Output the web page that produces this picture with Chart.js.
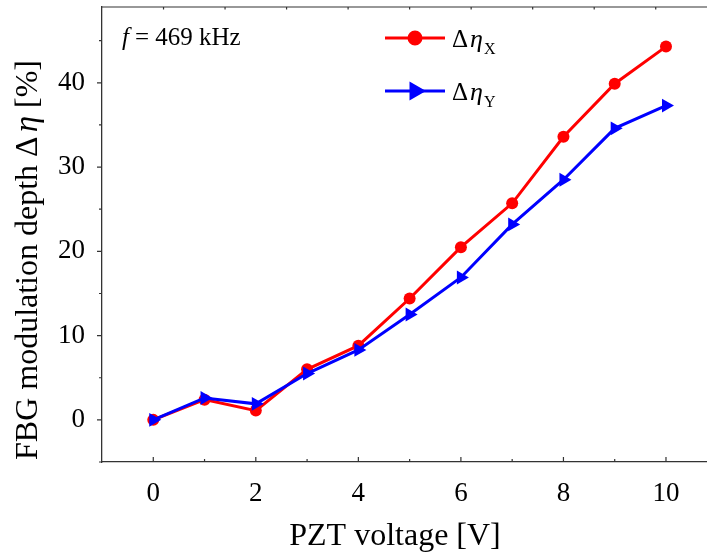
<!DOCTYPE html>
<html>
<head>
<meta charset="utf-8">
<script src="https://cdn.jsdelivr.net/npm/chart.js@4.4.1/dist/chart.umd.min.js"></script>
<style>
  html, body { margin: 0; padding: 0; background: #fff; }
  #wrap { width: 707px; height: 555px; }
</style>
</head>
<body>
<div id="wrap"><canvas id="c" width="707" height="555"></canvas></div>
<script>
// ── FBG modulation depth vs PZT voltage ───────────────────────────────────────
const voltage = [0, 1, 2, 3, 4, 5, 6, 7, 8, 9, 10];
const etaX    = [0, 2.4, 1.1, 6.0, 8.8, 14.4, 20.5, 25.7, 33.6, 39.9, 44.3];
const etaY    = [0, 2.6, 1.9, 5.5, 8.3, 12.5, 16.9, 23.2, 28.5, 34.6, 37.3];

const xTicks      = [0, 2, 4, 6, 8, 10];
const xMinorTicks = [1, 3, 5, 7, 9];
const yTicks      = [0, 10, 20, 30, 40];
const yMinorTicks = [-5, 5, 15, 25, 35, 45];
const topTicks    = [0.2, 1.4, 2.6, 3.8, 5.0, 6.2, 7.4, 8.6, 9.8];

const SERIF = '"Liberation Serif", "DejaVu Serif", serif';
const RED  = '#ff0000';
const BLUE = '#0000ff';

// draw a row of text runs with their own fonts, starting at x
function drawRuns(ctx, runs, x, y) {
  for (const r of runs) {
    ctx.font = r.font;
    ctx.fillText(r.text, x, y + (r.dy || 0));
    x += ctx.measureText(r.text).width + (r.gap || 0);
  }
  return x;
}
function runsWidth(ctx, runs) {
  let w = 0;
  for (const r of runs) { ctx.font = r.font; w += ctx.measureText(r.text).width + (r.gap || 0); }
  return w;
}

// ticks, frame top, annotation, legend and axis titles
const decorPlugin = {
  id: 'decor',
  afterDraw(chart) {
    const { ctx, chartArea: a, scales: { x, y } } = chart;
    ctx.save();
    ctx.strokeStyle = '#333';
    ctx.lineWidth = 1.2;

    // top frame line
    ctx.beginPath();
    ctx.moveTo(a.left, a.top);
    ctx.lineTo(a.right, a.top);
    ctx.stroke();

    ctx.beginPath();
    // bottom ticks point inward
    xTicks.forEach(v => { const px = x.getPixelForValue(v); ctx.moveTo(px, a.bottom); ctx.lineTo(px, a.bottom - 5); });
    xMinorTicks.forEach(v => { const px = x.getPixelForValue(v); ctx.moveTo(px, a.bottom); ctx.lineTo(px, a.bottom - 3); });
    // left ticks point outward
    yTicks.forEach(v => { const py = y.getPixelForValue(v); ctx.moveTo(a.left, py); ctx.lineTo(a.left - 5, py); });
    yMinorTicks.forEach(v => { const py = y.getPixelForValue(v); ctx.moveTo(a.left, py); ctx.lineTo(a.left - 3, py); });
    // small ticks on top frame
    topTicks.forEach(v => { const px = x.getPixelForValue(v); ctx.moveTo(px, a.top); ctx.lineTo(px, a.top + 2.5); });
    ctx.stroke();

    ctx.fillStyle = '#000';
    ctx.textBaseline = 'alphabetic';
    ctx.textAlign = 'left';

    // f = 469 kHz
    drawRuns(ctx, [
      { text: 'f', font: `italic 25px ${SERIF}`, gap: 6 },
      { text: '= 469 kHz', font: `25px ${SERIF}` },
    ], 122, 45);

    // legend
    const legend = [
      { color: RED,  style: 'circle',   radius: 6, rot: 0,  sub: 'X', y: 38 },
      { color: BLUE, style: 'triangle', radius: 8, rot: 90, sub: 'Y', y: 91 },
    ];
    legend.forEach(l => {
      ctx.strokeStyle = l.color;
      ctx.lineWidth = 3;
      ctx.beginPath();
      ctx.moveTo(385, l.y);
      ctx.lineTo(445, l.y);
      ctx.stroke();
      ctx.fillStyle = l.color;
      Chart.helpers.drawPoint(ctx, { pointStyle: l.style, radius: l.radius, rotation: l.rot, borderWidth: 1 }, 415, l.y);
      ctx.fillStyle = '#000';
      drawRuns(ctx, [
        { text: 'Δ', font: `25px ${SERIF}`, gap: 2 },
        { text: 'η', font: `italic 26px ${SERIF}`, gap: 1 },
        { text: l.sub, font: `16px ${SERIF}`, dy: 7 },
      ], 452, l.y + 9);
    });

    // x title
    ctx.font = `32px ${SERIF}`;
    ctx.textAlign = 'center';
    ctx.fillText('PZT voltage [V]', 395, 545);

    // y title, rotated
    const yRuns = [
      { text: 'FBG modulation depth Δ', font: `32px ${SERIF}`, gap: 4 },
      { text: 'η', font: `italic 33px ${SERIF}` },
      { text: ' [%]', font: `32px ${SERIF}` },
    ];
    ctx.textAlign = 'left';
    ctx.translate(37, 260);
    ctx.rotate(-Math.PI / 2);
    const w = runsWidth(ctx, yRuns);
    drawRuns(ctx, yRuns, -w / 2, 0);
    ctx.restore();
  },
};

// pin the plot box: no extra room for edge labels
function noEdgePadding(s) {
  s.paddingTop = 0; s.paddingBottom = 0; s.paddingLeft = 0; s.paddingRight = 0;
}

new Chart(document.getElementById('c'), {
  type: 'line',
  data: {
    datasets: [
      {
        label: 'Δη_X',
        data: voltage.map((v, i) => ({ x: v, y: etaX[i] })),
        borderColor: RED,
        backgroundColor: RED,
        borderWidth: 3,
        pointStyle: 'circle',
        pointRadius: 6,
        pointBorderWidth: 0,
        order: 2,
      },
      {
        label: 'Δη_Y',
        data: voltage.map((v, i) => ({ x: v, y: etaY[i] })),
        borderColor: BLUE,
        backgroundColor: BLUE,
        borderWidth: 3,
        pointStyle: 'triangle',
        pointRotation: 90,
        pointRadius: 8,
        pointBorderWidth: 0,
        order: 1,
      },
    ],
  },
  plugins: [decorPlugin],
  options: {
    responsive: false,
    animation: false,
    layout: { autoPadding: false, padding: { top: 7, right: 0, bottom: 0, left: 0 } },
    plugins: { legend: { display: false }, tooltip: { enabled: false } },
    scales: {
      x: {
        type: 'linear',
        min: -1,
        max: 10.8,
        afterBuildTicks: s => { s.ticks = xTicks.map(v => ({ value: v })); },
        afterFit: s => { s.height = 93; noEdgePadding(s); },
        grid: { display: false },
        border: { display: true, color: '#333', width: 1.3 },
        ticks: { color: '#000', font: { family: SERIF, size: 27 }, padding: 8, maxRotation: 0 },
      },
      y: {
        type: 'linear',
        min: -5,
        max: 49,
        afterBuildTicks: s => { s.ticks = yTicks.map(v => ({ value: v })); },
        afterFit: s => { s.width = 102; noEdgePadding(s); },
        grid: { display: false },
        border: { display: true, color: '#333', width: 1.3 },
        ticks: { color: '#000', font: { family: SERIF, size: 27 }, padding: 9 },
      },
    },
  },
});
</script>
</body>
</html>
